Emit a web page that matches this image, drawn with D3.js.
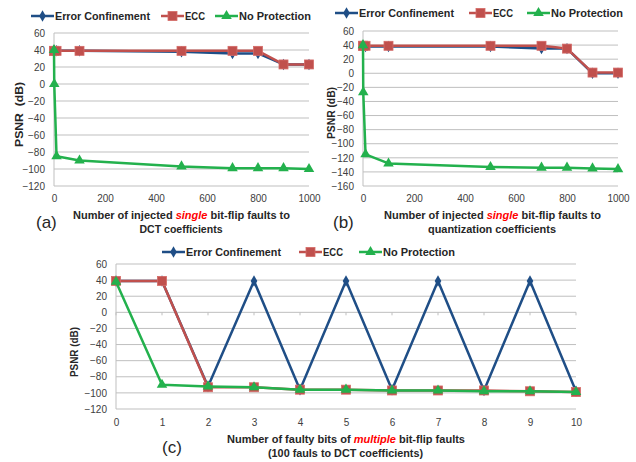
<!DOCTYPE html>
<html><head><meta charset="utf-8">
<script src="https://cdn.jsdelivr.net/npm/d3@7"></script>
<style>
body{margin:0;background:#fff;}
svg{display:block;}
</style></head>
<body>
<svg id="c" width="636" height="462"></svg>
<script>
// ---- data ----
const seriesNames = ["Error Confinement", "ECC", "No Protection"];
const xSingle = [0, 1, 10, 100, 500, 700, 800, 900, 1000];
const aEC  = [39, 39, 39, 39, 38, 36, 36, 23, 23];
const aECC = [39, 39, 39, 39, 39, 39, 39, 23, 23];
const aNP  = [40, 0, -85, -90, -97, -99, -99, -99, -100];
const bEC  = [38, 38, 38, 38, 38, 35, 35, 0, 0];
const bECC = [39, 39, 39, 39, 39, 39, 35, 1, 1];
const bNP  = [40, -27, -115, -128, -133, -134, -134, -135, -136];
const xMulti = [0, 1, 2, 3, 4, 5, 6, 7, 8, 9, 10];
const cEC  = [39, 39, -92, 39, -96, 39, -96, 39, -97, 39, -98];
const cECC = [39, 39, -93, -93, -96, -96, -97, -97, -97, -98, -99];
const cNP  = [38, -90, -92, -93, -96, -96, -97, -97, -98, -98, -99];
const xTicksSingle = [0, 200, 400, 600, 800, 1000];
const yTicksA = [60, 40, 20, 0, -20, -40, -60, -80, -100, -120];
const yTicksB = [60, 40, 20, 0, -20, -40, -60, -80, -100, -120, -140, -160];

const colors = ["#1f4e86", "#c0504d", "#23b14d"];
const svg = d3.select("#c");
const FN = "'Liberation Sans',Arial,sans-serif";
const legendWidths = [95, 20, 72];

function fit(sel, w) {
  sel.attr("textLength", w).attr("lengthAdjust", "spacingAndGlyphs");
  return sel;
}

function marker(g, type, x, y, color) {
  if (type === 0) {
    g.append("path").attr("d", d3.symbol(d3.symbolDiamond, 38)())
      .attr("transform", `translate(${x},${y})`).attr("fill", color);
  } else if (type === 1) {
    g.append("rect").attr("x", x - 4.5).attr("y", y - 4.5).attr("width", 9).attr("height", 9)
      .attr("fill", color).attr("stroke", "#d46a67").attr("stroke-width", 0.8);
  } else {
    g.append("path").attr("d", d3.symbol(d3.symbolTriangle, 48)())
      .attr("transform", `translate(${x},${y})`).attr("fill", color);
  }
}

function legend(g, items) {
  items.forEach((it, i) => {
    g.append("line").attr("x1", it.x).attr("x2", it.x + 23).attr("y1", it.y).attr("y2", it.y)
      .attr("stroke", colors[i]).attr("stroke-width", 2.5);
    marker(g, i, it.x + 11.5, it.y, colors[i]);
    fit(g.append("text").attr("x", it.x + 24).attr("y", it.y + 4).text(seriesNames[i])
      .attr("font-family", FN).attr("font-weight", "bold").attr("font-size", 11).attr("fill", "#262626"),
      legendWidths[i]);
  });
}

function chart(opt) {
  const g = svg.append("g");
  const x = opt.x, y = opt.y;
  g.selectAll(".gl").data(opt.yTicks).join("line")
    .attr("x1", x.range()[0]).attr("x2", x.range()[1])
    .attr("y1", d => y(d)).attr("y2", d => y(d))
    .attr("stroke", "#bfbfbf").attr("stroke-width", 1);
  g.append("line").attr("x1", x.range()[0]).attr("x2", x.range()[0])
    .attr("y1", y.range()[0]).attr("y2", y.range()[1]).attr("stroke", "#bfbfbf");
  const ya = d3.axisLeft(y).tickValues(opt.yTicks).tickSize(0).tickPadding(opt.yPad).tickFormat(d3.format("d"));
  const yg = g.append("g").attr("transform", `translate(${x.range()[0]},0)`).call(ya);
  yg.select(".domain").remove();
  yg.selectAll("text").attr("font-family", FN).attr("font-size", 10).attr("fill", "#404040");
  const xa = d3.axisBottom(x).tickValues(opt.xTicks).tickSize(0).tickPadding(opt.xPad).tickFormat(d3.format("d"));
  const xg = g.append("g").attr("transform", `translate(0,${y.range()[0]})`).call(xa);
  xg.select(".domain").remove();
  xg.selectAll("text").attr("font-family", FN).attr("font-size", 10).attr("fill", "#404040");
  if (opt.zeroTicks) {
    g.selectAll(".zt").data(opt.xTicks).join("line")
      .attr("x1", d => x(d)).attr("x2", d => x(d))
      .attr("y1", y(0)).attr("y2", y(0) + 3).attr("stroke", "#bfbfbf");
  }
  opt.series.forEach((vals, i) => {
    const pts = opt.xs.map((xv, j) => [x(xv), y(vals[j])]);
    g.append("path").attr("d", d3.line()(pts)).attr("fill", "none")
      .attr("stroke", colors[i]).attr("stroke-width", 2.5).attr("stroke-linejoin", "round");
    pts.forEach(p => marker(g, i, p[0], p[1], colors[i]));
  });
  fit(g.append("text").attr("transform", `translate(${opt.yTitle[0]},${opt.yTitle[1]}) rotate(-90)`)
    .attr("text-anchor", "middle").attr("font-family", FN).attr("font-weight", "bold")
    .attr("font-size", 11).attr("fill", "#262626").text(opt.yTitleText), opt.yTitle[2]);
  opt.xTitle.forEach((line, li) => {
    const t = g.append("text").attr("x", opt.xTitleCx[li]).attr("y", opt.xTitleY[li])
      .attr("text-anchor", "middle").attr("font-family", FN).attr("font-weight", "bold")
      .attr("font-size", 11).attr("fill", "#262626");
    line.forEach(seg => {
      const s = t.append("tspan").text(seg.t);
      if (seg.red) s.attr("fill", "#ff0000").attr("font-style", "italic");
    });
    fit(t, opt.xTitleW[li]);
  });
  g.append("text").attr("x", opt.lab[0]).attr("y", opt.lab[1]).attr("font-family", FN)
    .attr("font-size", 17).attr("fill", "#262626").text(opt.label);
  legend(g, opt.legend);
}

chart({
  x: d3.scaleLinear().domain([0, 1000]).range([54, 309]),
  y: d3.scaleLinear().domain([-120, 60]).range([186, 33]),
  xs: xSingle, series: [aEC, aECC, aNP],
  yTicks: yTicksA, xTicks: xTicksSingle, yPad: 9, xPad: 9,
  yTitleText: "PSNR\u00a0 (dB)", yTitle: [23, 114.5, 65],
  xTitleCx: [181.5, 181], xTitleY: [219, 233], xTitleW: [217, 83],
  xTitle: [[{t: "Number of injected "}, {t: "single", red: true}, {t: " bit-flip faults to"}], [{t: "DCT coefficients"}]],
  label: "(a)", lab: [36, 228],
  legend: [{x: 31, y: 16}, {x: 161, y: 16}, {x: 215, y: 16}]
});
chart({
  x: d3.scaleLinear().domain([0, 1000]).range([363, 618]),
  y: d3.scaleLinear().domain([-160, 60]).range([186, 31]),
  xs: xSingle, series: [bEC, bECC, bNP],
  yTicks: yTicksB, xTicks: xTicksSingle, yPad: 9, xPad: 9,
  yTitleText: "PSNR (dB)", yTitle: [335, 113, 52],
  xTitleCx: [492.5, 492], xTitleY: [219, 233], xTitleW: [217, 128],
  xTitle: [[{t: "Number of injected "}, {t: "single", red: true}, {t: " bit-flip faults to"}], [{t: "quantization coefficients"}]],
  label: "(b)", lab: [333, 228],
  legend: [{x: 335, y: 13}, {x: 469, y: 13}, {x: 527, y: 13}]
});
chart({
  x: d3.scaleLinear().domain([0, 10]).range([116, 576]),
  y: d3.scaleLinear().domain([-120, 60]).range([409, 264]),
  xs: xMulti, series: [cEC, cECC, cNP],
  yTicks: yTicksA, xTicks: xMulti, yPad: 9, xPad: 10, zeroTicks: true,
  yTitleText: "PSNR (dB)", yTitle: [78, 352, 50],
  xTitleCx: [346, 345.5], xTitleY: [443, 457], xTitleW: [238, 155],
  xTitle: [[{t: "Number of faulty bits of "}, {t: "multiple", red: true}, {t: " bit-flip faults"}], [{t: "(100 fauls to DCT coefficients)"}]],
  label: "(c)", lab: [162, 453],
  legend: [{x: 162, y: 252}, {x: 299, y: 252}, {x: 359, y: 252}]
});
</script>
</body></html>
